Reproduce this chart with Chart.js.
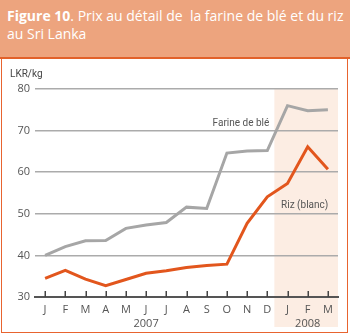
<!DOCTYPE html>
<html><head><meta charset="utf-8">
<script src="https://cdn.jsdelivr.net/npm/chart.js@4"></script>
<style>
html,body{margin:0;padding:0;background:#fff;}
#wrap{position:relative;width:350px;height:335px;overflow:hidden;font-family:"Open Sans",sans-serif;}
#head{position:absolute;left:0;top:0;width:350px;height:57px;background:#EDA47E;border-bottom:2.5px solid #E2612A;}
#title{position:absolute;left:7px;top:7px;color:#fff;font-size:14px;line-height:18px;white-space:pre;}
#box{position:absolute;left:1px;top:59px;width:347px;height:274px;box-sizing:border-box;border:1.5px solid #E8642F;border-top:none;}
canvas{position:absolute;left:0;top:0;}
</style></head>
<body>
<div id="wrap">
<div id="head"><div id="title"><b>Figure 10</b>. Prix au détail de  la farine de blé et du riz
au Sri Lanka</div></div>
<div id="box"></div>
<canvas id="c" width="350" height="335"></canvas>
</div>
<script>
const months = ['J','F','M','A','M','J','J','A','S','O','N','D','J','F','M'];
const yearLabels = ['','','','','','2007','','','','','','','','2008',''];
const wheat = [40.0,42.1,43.5,43.6,46.5,47.3,47.9,51.6,51.3,64.6,65.1,65.2,76.0,74.8,75.0];
const rice  = [34.5,36.4,34.3,32.7,34.2,35.7,36.3,37.1,37.6,37.9,47.7,54.1,57.3,66.1,60.7];
const yTicks = [30,40,50,60,70,80];
const seriesNames = ['Farine de blé','Riz (blanc)'];
const unitLabel = 'LKR/kg';
const shadeFrom = 11.35; // start of 2008 highlight (category index)
const wheatLabelAt = [11.1, 71.8];
const riceLabelAt = [12.85, 52.1];

const FONT = '"Open Sans", sans-serif';
const NOTE_FONT = 'Roboto, "Open Sans", sans-serif';
Chart.defaults.font.family = FONT;

const labels = months.map((m,i)=>[m, yearLabels[i]]);

const decor = {
  id:'decor',
  beforeDraw(chart){
    const {ctx, chartArea:a, scales:{x}} = chart;
    ctx.save();
    ctx.fillStyle = '#FCEDE3';
    const x0 = x.getPixelForValue(shadeFrom);
    ctx.fillRect(x0, a.top, a.right - x0, a.bottom - a.top + 30);
    ctx.restore();
  },
  afterDatasetsDraw(chart){
    const {ctx, chartArea:a, scales:{x,y}} = chart;
    ctx.save();
    ctx.strokeStyle = '#444';
    ctx.lineWidth = 1.5;
    for(let i=0;i<months.length;i++){
      const px = Math.round(x.getPixelForTick(i))+0.25;
      ctx.beginPath(); ctx.moveTo(px, a.bottom-6); ctx.lineTo(px, a.bottom); ctx.stroke();
    }
    ctx.fillStyle = '#555';
    ctx.font = '10px ' + NOTE_FONT;
    ctx.textBaseline = 'middle';
    ctx.textAlign = 'right';
    ctx.fillText(seriesNames[0], x.getPixelForValue(wheatLabelAt[0]), y.getPixelForValue(wheatLabelAt[1]));
    ctx.textAlign = 'center';
    ctx.fillText(seriesNames[1], x.getPixelForValue(riceLabelAt[0]), y.getPixelForValue(riceLabelAt[1]));
    ctx.textAlign = 'left';
    ctx.fillStyle = '#444';
    ctx.fillText(unitLabel, 10, a.top - 15);
    ctx.restore();
  }
};

new Chart(document.getElementById('c'), {
  type:'line',
  data:{
    labels,
    datasets:[
      {label:seriesNames[0], data:wheat, borderColor:'#A6A6A6', borderWidth:3, pointRadius:0, tension:0},
      {label:seriesNames[1], data:rice, borderColor:'#E2561D', borderWidth:3, pointRadius:0, tension:0}
    ]
  },
  options:{
    responsive:false, animation:false,
    layout:{padding:{top:89,right:12,bottom:0,left:0}},
    plugins:{legend:{display:false}, tooltip:{enabled:false}},
    scales:{
      x:{
        offset:true,
        grid:{display:false},
        border:{display:true,color:'#555',width:2},
        ticks:{color:'#555',font:{size:11,lineHeight:1.35},padding:-3,maxRotation:0,autoSkip:false},
        afterFit(s){ s.height = 38; }
      },
      y:{
        min:30,max:80,
        afterBuildTicks(s){ s.ticks = yTicks.map(v=>({value:v})); },
        grid:{color:'#ABABAB',lineWidth:1.5,drawTicks:false},
        border:{display:false},
        ticks:{color:'#555',font:{size:11},padding:5},
        afterFit(s){ s.width = 35; }
      }
    }
  },
  plugins:[decor]
});
</script>
</body></html>
